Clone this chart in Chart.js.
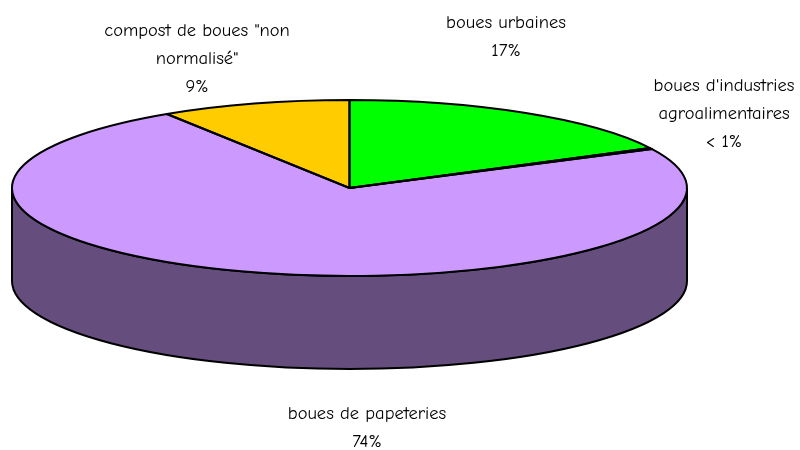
<!DOCTYPE html>
<html lang="fr">
<head>
<meta charset="utf-8">
<style>
html,body{margin:0;padding:0;background:#fff;overflow:hidden}
canvas{display:block}
</style>
<script src="https://cdn.jsdelivr.net/npm/chart.js@4"></script>
</head>
<body>
<canvas id="c" width="800" height="450"></canvas>
<script>
const categories = ['boues urbaines', "boues d'industries agroalimentaires", 'boues de papeteries', 'compost de boues "non normalisé"'];
const values = [17.5, 0.2, 73.2, 9.1];
const colors = ['#00ff00', '#00ff00', '#cc99ff', '#ffcc00'];
const valueLabels = ['17%', '< 1%', '74%', '9%'];
const labelLines = [
  ['boues urbaines', '17%'],
  ["boues d'industries", 'agroalimentaires', '< 1%'],
  ['boues de papeteries', '74%'],
  ['compost de boues "non', 'normalisé"', '9%']
];
const labelAnchors = [[506, 22.5], [724, 85.5], [367, 413.5], [197, 30.5]];

const CX = 349.5, CY = 188, RX = 337.5, RY = 88, DEPTH = 93;
const WALL = '#654e7e';
const FONT = '18.5px "Comic Sans MS", "Comic Neue", Lato, sans-serif';

const squash = {
  id: 'squash',
  beforeDatasetsDraw(chart) {
    const ctx = chart.ctx;
    const a = chart.getDatasetMeta(0).data[0];
    const R = a.outerRadius;
    // side wall
    ctx.save();
    ctx.beginPath();
    ctx.moveTo(CX - RX, CY);
    ctx.lineTo(CX - RX, CY + DEPTH);
    ctx.ellipse(CX, CY + DEPTH, RX, RY, 0, Math.PI, 0, true);
    ctx.lineTo(CX + RX, CY);
    ctx.ellipse(CX, CY, RX, RY, 0, 0, Math.PI, false);
    ctx.closePath();
    ctx.fillStyle = WALL;
    ctx.fill();
    ctx.strokeStyle = '#000';
    ctx.lineWidth = 2;
    ctx.stroke();
    ctx.restore();
    // flatten the pie drawn by the library
    ctx.save();
    ctx.translate(CX, CY);
    ctx.scale(RX / R, RY / R);
    ctx.translate(-a.x, -a.y);
  },
  afterDatasetsDraw(chart) {
    const ctx = chart.ctx;
    ctx.restore();
    const arcs = chart.getDatasetMeta(0).data;
    ctx.save();
    ctx.strokeStyle = '#000';
    ctx.lineWidth = 2;
    ctx.lineJoin = 'round';
    arcs.forEach(a => {
      const p = a.getProps(['x', 'y', 'startAngle', 'endAngle', 'outerRadius'], true);
      ctx.save();
      ctx.translate(CX, CY);
      ctx.scale(RX / p.outerRadius, RY / p.outerRadius);
      ctx.beginPath();
      ctx.moveTo(0, 0);
      ctx.arc(0, 0, p.outerRadius, p.startAngle, p.endAngle);
      ctx.closePath();
      ctx.restore();
      ctx.stroke();
    });
    ctx.restore();
    // labels
    ctx.save();
    ctx.font = FONT;
    ctx.fillStyle = '#000';
    ctx.textAlign = 'center';
    ctx.textBaseline = 'middle';
    labelLines.forEach((lines, i) => {
      lines.forEach((t, j) => {
        ctx.fillText(t, labelAnchors[i][0], labelAnchors[i][1] + j * 28);
      });
    });
    ctx.restore();
  }
};

new Chart(document.getElementById('c'), {
  type: 'pie',
  data: {
    labels: categories,
    datasets: [{ data: values, backgroundColor: colors, borderWidth: 0 }]
  },
  options: {
    responsive: false,
    animation: false,
    layout: { padding: 0 },
    plugins: { legend: { display: false }, tooltip: { enabled: false } }
  },
  plugins: [squash]
});
</script>
</body>
</html>
